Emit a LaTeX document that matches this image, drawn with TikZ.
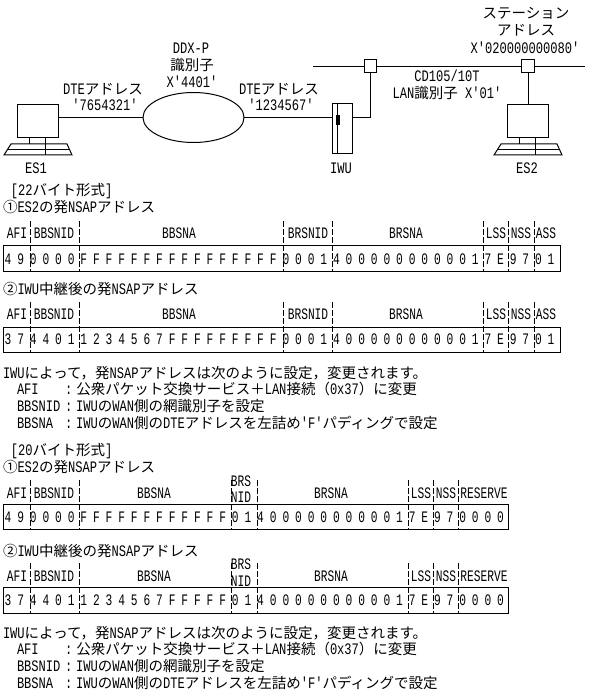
\documentclass[tikz,border=0pt]{standalone}
\usepackage{fontspec}
\usetikzlibrary{shapes.geometric}
\newfontfamily\latf[FakeStretch=0.755]{Liberation Mono}
\newfontfamily\latn[FakeStretch=0.70]{Liberation Mono}
\newfontfamily\jpf{Noto Sans CJK JP}
\newcommand\J[1]{{\fontsize{10.875pt}{14pt}\selectfont\jpf #1}}
\newcommand\Lf{\fontsize{12pt}{14pt}\selectfont\latf}
\newcommand\Ln{\fontsize{12pt}{14pt}\selectfont\latn}
\tikzset{
  every node/.style={inner sep=0pt,outer sep=0pt,font=\Lf},
  tc/.style={anchor=base,yshift=-4.1pt},
  tl/.style={anchor=base west,yshift=-4.1pt},
  fc/.style={tc,font=\Ln},
  sized/.style 2 args={draw,rectangle,minimum width=#1*.75pt,minimum height=#2*.75pt},
  tick/.style={line width=.75pt,dash pattern=on 4.5pt off 1.5pt},
  wire/.style={line width=.75pt},
  framebox/.style={draw,line width=.75pt,rectangle,anchor=north west}
}
% digits along one row of a field frame
\newcommand\hexrow[3]{\foreach \c [count=\i] in {#3}
  \node[fc] (#1-\i) at ({8+(\i-1)*12.63},#2) {\c};}
% dashed separators of one row: name, top y, bottom y, x list
\newcommand\ticks[4]{\foreach \t [count=\i] in {#4}{
  \coordinate (#1-t\i) at (\t,#2); \coordinate (#1-b\i) at (\t,#3);
  \draw[tick] (#1-t\i) -- (#1-b\i);}}
\newcommand\frameat[5]{\node[framebox,minimum width=#4*.75pt,minimum height=#5*.75pt] (#1) at (#2,#3) {};}
\newcommand\keyboard[1]{\begin{scope}[xshift=#1*.75pt]
  \draw[wire] (11,144) -- (67,144) -- (72,155) -- (4,155) -- cycle;
  \draw[wire] (7.5,149.5) -- (69,149.5);
  \draw[wire] (29,138) -- (29,144);
  \draw[wire] (45,138) -- (45,155);
\end{scope}}
\begin{document}
\begin{tikzpicture}[x=.75pt,y=-.75pt]
\useasboundingbox (0,0) rectangle (588,698);
\fill[white] (0,0) rectangle (588,698);
% top network
\node[sized={41}{33},line width=.75pt] (es1) at (37.5,121) {};
\node[draw,ellipse,line width=.75pt,minimum width=101*.75pt,minimum height=50*.75pt] (cloud) at (193.5,117.5) {};
\node[sized={20}{50},line width=.75pt] (iwu) at (342,129) {};
\node[sized={12.5}{13},line width=.75pt] (p1) at (370.5,66.5) {};
\node[sized={12.5}{13},line width=.75pt] (p2) at (528,66.5) {};
\node[sized={41}{33},line width=.75pt] (es2) at (527.5,121) {};
\coordinate (lanl) at (313,66.5);
\coordinate (lanr) at (585,66.5);
\draw[wire] (es1.east |- cloud.west) -- (cloud.west);
\draw[wire] (cloud.east) -- (iwu.west |- cloud.east);
\draw[wire] (iwu.east |- cloud.east) -| (p1.south);
\draw[wire] (lanl) -- (p1.west);
\draw[wire] (p1.east) -- (p2.west);
\draw[wire] (p2.east) -- (lanr);
\draw[wire] (p2.south) -- (es2.north -| p2.south);
\draw[wire] (337.5,104) -- (337.5,154);
\fill (336,115) rectangle (340,125.5);
\keyboard{0}
\keyboard{490}
\node[tc] (l1) at (526,13) {\J{ステーション}};
\node[tc] (l2) at (526,30) {\J{アドレス}};
\node[tc] (l3) at (525,48) {X'020000000080'};
\node[tc] (l4) at (191,48) {DDX-P};
\node[tc] (l5) at (192,65) {\J{識別子}};
\node[tc] (l6) at (192,82) {X'4401'};
\node[tc] (l7) at (103,89) {DTE\J{アドレス}};
\node[tc] (l8) at (105,105) {'7654321'};
\node[tc] (l9) at (279,89) {DTE\J{アドレス}};
\node[tc] (l10) at (281,105) {'1234567'};
\node[tc] (l11) at (447,76) {CD105/10T};
\node[tc] (l12) at (447,93) {LAN\J{識別子}\ X'01'};
\node[tc] (l13) at (36,168) {ES1};
\node[tc] (l14) at (341,168) {IWU};
\node[tc] (l15) at (527,168) {ES2};
% 22 byte format
\node[tl] (h1) at (11,190) {[22\J{バイト形式}]};
\node[tl] (h2) at (3,207) {\J{①}ES2\J{の発}NSAP\J{アドレス}};
\frameat{f1}{3}{246}{557}{25}
\ticks{a}{221}{271}{30,79,283,332,483,508,534}
\foreach \n/\x/\s in {a1/17/AFI,a2/54/BBSNID,a3/179/BBSNA,a4/308/BRSNID,a5/406/BRSNA,a6/496/LSS,a7/521/NSS,a8/546/ASS}
  \node[fc] (\n) at (\x,233) {\s};
\hexrow{d1}{259}{4,9,0,0,0,0,F,F,F,F,F,F,F,F,F,F,F,F,F,F,F,F,0,0,0,1,4,0,0,0,0,0,0,0,0,0,0,1,7,E,9,7,0,1}
\node[tl] (h3) at (3,289) {\J{②}IWU\J{中継後の発}NSAP\J{アドレス}};
\frameat{f2}{3}{327}{557}{25}
\ticks{b}{302}{352}{30,79,283,332,483,508,534}
\foreach \n/\x/\s in {b1/17/AFI,b2/54/BBSNID,b3/179/BBSNA,b4/308/BRSNID,b5/406/BRSNA,b6/496/LSS,b7/521/NSS,b8/546/ASS}
  \node[fc] (\n) at (\x,314) {\s};
\hexrow{d2}{339}{3,7,4,4,0,1,1,2,3,4,5,6,7,F,F,F,F,F,F,F,F,F,0,0,0,1,4,0,0,0,0,0,0,0,0,0,0,1,7,E,9,7,0,1}
\node[tl] (s1) at (3,373) {IWU\J{によって，発}NSAP\J{アドレスは次のように設定，変更されます。}};
\node[tl] (s2) at (17,389) {AFI};
\node[tl] (s3) at (65,389) {:\hspace{3pt}\J{公衆パケット交換サービス＋}LAN\J{接続（}0x37\J{）に変更}};
\node[tl] (s4) at (17,406) {BBSNID};
\node[tl] (s5) at (65,406) {:\hspace{3pt}IWU\J{の}WAN\J{側の網識別子を設定}};
\node[tl] (s6) at (17,423) {BBSNA};
\node[tl] (s7) at (65,423) {:\hspace{3pt}IWU\J{の}WAN\J{側の}DTE\J{アドレスを左詰め}'F'\J{パディングで設定}};
% 20 byte format
\node[tl] (h4) at (11,450) {[20\J{バイト形式}]};
\node[tl] (h5) at (3,467) {\J{①}ES2\J{の発}NSAP\J{アドレス}};
\frameat{f3}{3}{504}{505}{25}
\ticks{c}{480}{529}{30,79,231,257,408,433,458}
\foreach \n/\x/\s in {c1/17/AFI,c2/54/BBSNID,c3/154/BBSNA,c5/331/BRSNA,c6/421/LSS,c7/446/NSS,c8/484/RESERVE}
  \node[fc] (\n) at (\x,493) {\s};
\node[fc] (c4a) at (241,481) {BRS};
\node[fc] (c4b) at (241,497) {NID};
\hexrow{d3}{517}{4,9,0,0,0,0,F,F,F,F,F,F,F,F,F,F,F,F,0,1,4,0,0,0,0,0,0,0,0,0,0,1,7,E,9,7,0,0,0,0}
\node[tl] (h6) at (3,551) {\J{②}IWU\J{中継後の発}NSAP\J{アドレス}};
\frameat{f4}{3}{587}{505}{26}
\ticks{e}{563}{613}{30,79,231,257,408,433,458}
\foreach \n/\x/\s in {e1/17/AFI,e2/54/BBSNID,e3/154/BBSNA,e5/331/BRSNA,e6/421/LSS,e7/446/NSS,e8/484/RESERVE}
  \node[fc] (\n) at (\x,576) {\s};
\node[fc] (e4a) at (241,564) {BRS};
\node[fc] (e4b) at (241,581) {NID};
\hexrow{d4}{600}{3,7,4,4,0,1,1,2,3,4,5,6,7,F,F,F,F,F,0,1,4,0,0,0,0,0,0,0,0,0,0,1,7,E,9,7,0,0,0,0}
\node[tl] (s8) at (3,633) {IWU\J{によって，発}NSAP\J{アドレスは次のように設定，変更されます。}};
\node[tl] (s9) at (17,649) {AFI};
\node[tl] (s10) at (65,649) {:\hspace{3pt}\J{公衆パケット交換サービス＋}LAN\J{接続（}0x37\J{）に変更}};
\node[tl] (s11) at (17,666) {BBSNID};
\node[tl] (s12) at (65,666) {:\hspace{3pt}IWU\J{の}WAN\J{側の網識別子を設定}};
\node[tl] (s13) at (17,683) {BBSNA};
\node[tl] (s14) at (65,683) {:\hspace{3pt}IWU\J{の}WAN\J{側の}DTE\J{アドレスを左詰め}'F'\J{パディングで設定}};
\end{tikzpicture}
\end{document}
